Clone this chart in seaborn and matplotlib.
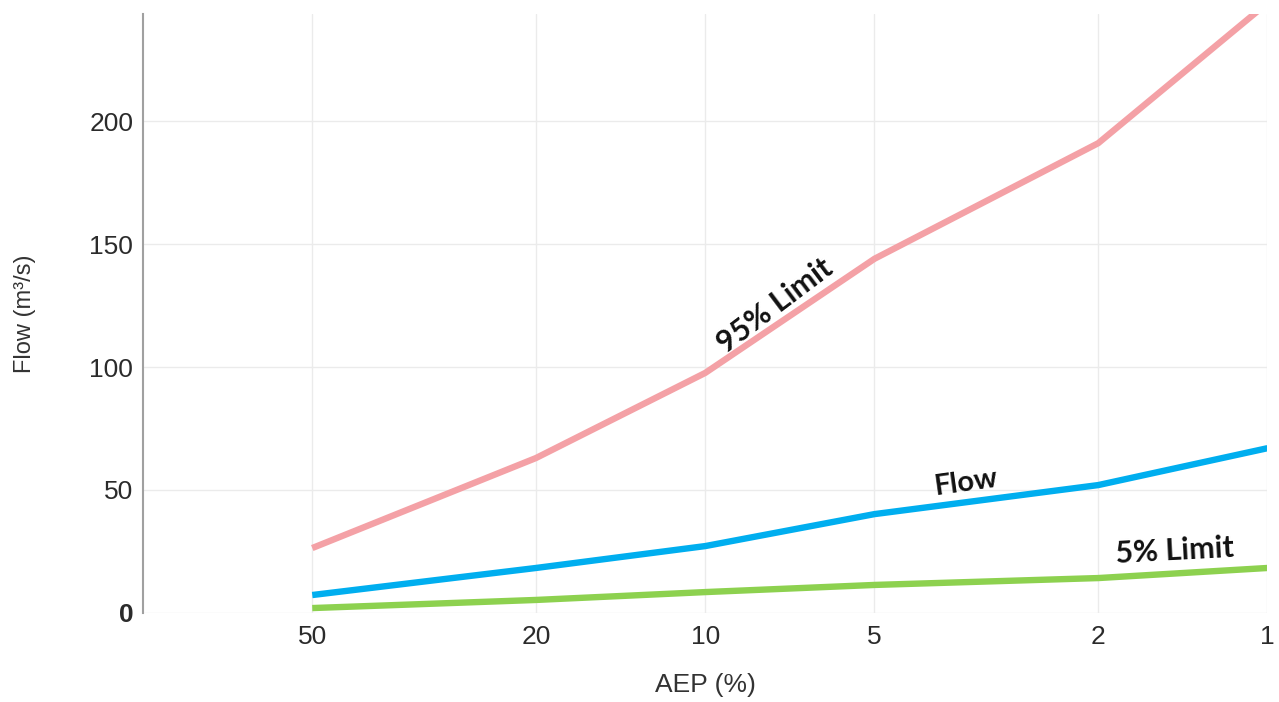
import pandas as pd
import matplotlib
matplotlib.use("Agg")
import matplotlib.pyplot as plt
import seaborn as sns
from matplotlib.ticker import FixedLocator, NullLocator

# AEP (%) and flows
aep = [50, 20, 10, 5, 2, 1]
flow = [7.3, 18.3, 27.2, 40.2, 52.0, 67.0]
upper_95 = [26.4, 63.0, 97.6, 144.0, 191.0, 248.0]
lower_5 = [2.0, 5.3, 8.5, 11.4, 14.2, 18.3]

y_ticks = [0, 50, 100, 150, 200]

series_colors = {"95% Limit": "#f4a1a6", "Flow": "#00aeef", "5% Limit": "#8dd14f"}

df = pd.DataFrame({
    "AEP": aep * 3,
    "value": upper_95 + flow + lower_5,
    "series": ["95% Limit"] * 6 + ["Flow"] * 6 + ["5% Limit"] * 6,
})

sns.set_theme(style="white")
plt.rcParams["font.family"] = ["Liberation Sans", "DejaVu Sans"]

fig = plt.figure(figsize=(12.79, 7.02), dpi=100)
ax = fig.add_axes([0.1118, 0.1268, 0.8792, 0.8532])

sns.lineplot(data=df, x="AEP", y="value", hue="series", palette=series_colors,
             linewidth=4.6, legend=False, ax=ax, solid_capstyle="butt")

ax.set_xscale("log")
ax.set_xlim(100, 1)
ax.set_ylim(0, 243.5)
ax.xaxis.set_major_locator(FixedLocator(aep))
ax.xaxis.set_minor_locator(NullLocator())
ax.set_xticklabels([str(a) for a in aep])
ax.set_yticks(y_ticks)
ax.set_yticklabels([str(t) for t in y_ticks])
ax.get_yticklabels()[0].set_fontweight("bold")
ax.get_yticklabels()[0].set_color("#000000")

ax.grid(True, color="#ebebeb", linewidth=1)
ax.set_axisbelow(True)
for side in ["top", "right", "bottom"]:
    ax.spines[side].set_visible(False)
ax.spines["left"].set_color("#a0a0a0")
ax.spines["left"].set_linewidth(1.5)
ax.tick_params(axis="y", length=0, labelsize=19, colors="#2b2b2b", pad=7)
ax.tick_params(axis="x", length=0, labelsize=19, colors="#2b2b2b", pad=9)

ax.set_xlabel("AEP (%)", fontsize=19, color="#333333", labelpad=17)
ax.set_ylabel("Flow (m³/s)", fontsize=17, color="#333333", labelpad=38)

label_font = ["Lato", "DejaVu Sans"]
ax.text(7.5, 125, "95% Limit", rotation=37, fontsize=22, fontweight="bold",
        family=label_font, ha="center", va="center", color="#111111")
ax.text(3.43, 53, "Flow", rotation=8, fontsize=21, fontweight="bold",
        family=label_font, ha="center", va="center", color="#111111")
ax.text(1.46, 25.2, "5% Limit", rotation=3, fontsize=22, fontweight="bold",
        family=label_font, ha="center", va="center", color="#111111")

fig.savefig("out.png", dpi=100)
